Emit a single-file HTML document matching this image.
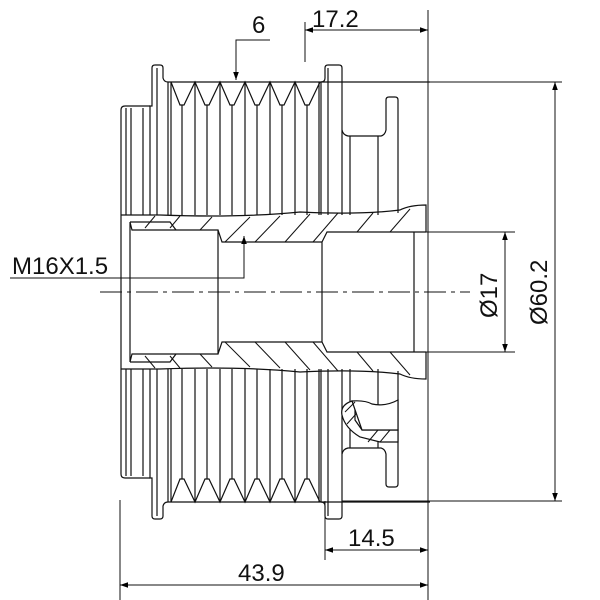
<!DOCTYPE html>
<html><head><style>body{margin:0;background:#fff}svg{display:block}</style></head><body>
<svg width="600" height="600" viewBox="0 0 600 600" xmlns="http://www.w3.org/2000/svg" font-family="Liberation Sans, sans-serif">
<defs>
<marker id="a" viewBox="0 0 10 10" refX="10" refY="5" markerWidth="8" markerHeight="8" orient="auto-start-reverse"><path d="M0,1.5 L10,5 L0,8.5z" fill="#000"/></marker>
<g id="half" fill="none" stroke="#111" stroke-width="1.2">
  <path d="M121,215 V110 Q121,106 125,106 H150"/>
  <line x1="126" y1="108" x2="126" y2="215"/><line x1="131" y1="108" x2="131" y2="215"/><line x1="143" y1="108" x2="143" y2="215"/>
  <path d="M150,215 V106 H152 V68 Q152,65 155,65 H160 Q163,65 163,68 V78 Q164,82 168,82"/>
  <line x1="157" y1="68" x2="157" y2="215"/>
  <line x1="168" y1="82" x2="168" y2="215"/><line x1="171" y1="82" x2="171" y2="215"/>
  <line x1="168" y1="82" x2="430" y2="82"/>
  <path d="M171,82 L180,105 L184,105 L195,82 L205,105 L209,105 L220,82 L230,105 L234,105 L245,82 L255,105 L259,105 L270,82 L280,105 L284,105 L295,82 L305,105 L309,105 L320,82"/>
  <line x1="182" y1="105" x2="182" y2="215"/><line x1="195" y1="82" x2="195" y2="215"/>
  <line x1="207" y1="105" x2="207" y2="215"/><line x1="220" y1="82" x2="220" y2="215"/>
  <line x1="232" y1="105" x2="232" y2="215"/><line x1="245" y1="82" x2="245" y2="215"/>
  <line x1="257" y1="105" x2="257" y2="215"/><line x1="270" y1="82" x2="270" y2="215"/>
  <line x1="282" y1="105" x2="282" y2="215"/><line x1="295" y1="82" x2="295" y2="215"/>
  <line x1="307" y1="105" x2="307" y2="215"/><line x1="319" y1="82" x2="319" y2="215"/><line x1="321" y1="82" x2="321" y2="215"/>
  <path d="M321,82 Q325,82 325,78 V68 Q325,65 328,65 H339 Q342,65 342,68 V215"/>
  <line x1="328" y1="68" x2="328" y2="215"/>
  <path d="M342,130 Q343,135 348,136 H381 Q385,135 386,130 V100 Q386,97 389,97 H395 Q398,97 398,100 V213"/>
  <line x1="350" y1="136" x2="350" y2="215"/><line x1="378" y1="136" x2="378" y2="215"/>
  <path d="M121,215 H160 Q240,218 300,212 Q360,215 400,210 Q410,205 426,205 V232"/>
  <path d="M121,215 V292 M130,222 V292 M130,222 L132,230 H218 V292 M218,230 L222,242 H322 V292 M322,242 L327,232 H414 V292 M414,232 L426,232"/>
  <path d="M130,222 H170 L176,230"/>
  <g stroke-width="1"><line x1="145" y1="228" x2="155" y2="216"/><line x1="170" y1="228" x2="180" y2="216"/><line x1="200" y1="230" x2="212" y2="217"/><line x1="225" y1="242" x2="250" y2="217"/><line x1="255" y1="242" x2="280" y2="216"/><line x1="285" y1="242" x2="310" y2="214"/><line x1="313" y1="242" x2="338" y2="213"/><line x1="357" y1="232" x2="373" y2="213"/><line x1="390" y1="232" x2="410" y2="209"/></g>
</g>
</defs>
<use href="#half"/>
<use href="#half" transform="translate(0,584) scale(1,-1)"/>
<g fill="#fff" stroke="#111" stroke-width="1.2">
<path d="M352,401 Q340,405 342,415 Q345,428 360,437 L380,442 H398 V430 H362 L355,420 V405 Z"/>
<path d="M352,401 Q365,400 372,404 Q385,407 398,400 V430 H362 Z"/>
</g>
<g stroke="#111" stroke-width="1" fill="none">
<line x1="345" y1="412" x2="355" y2="402"/><line x1="347" y1="424" x2="356" y2="414"/><line x1="368" y1="442" x2="378" y2="430"/><line x1="380" y1="442" x2="390" y2="430"/>
</g>
<line x1="100" y1="292" x2="470" y2="292" stroke="#111" stroke-dasharray="22,5,4,5"/>
<g stroke="#111" stroke-width="1" fill="none">
<line x1="428" y1="10" x2="428" y2="600"/>
<line x1="305" y1="22" x2="305" y2="62"/>
<line x1="305" y1="30" x2="428" y2="30" marker-start="url(#a)" marker-end="url(#a)"/>
<polyline points="270,40 236,40 236,80" marker-end="url(#a)"/>
<line x1="342" y1="82" x2="562" y2="82"/><line x1="342" y1="501" x2="562" y2="501"/>
<line x1="555" y1="82" x2="555" y2="501" marker-start="url(#a)" marker-end="url(#a)"/>
<line x1="426" y1="232" x2="515" y2="232"/><line x1="426" y1="352" x2="515" y2="352"/>
<line x1="505" y1="232" x2="505" y2="352" marker-start="url(#a)" marker-end="url(#a)"/>
<polyline points="10,278 244,278 244,236" marker-end="url(#a)"/>
<line x1="325" y1="501" x2="325" y2="560"/>
<line x1="325" y1="550" x2="428" y2="550" marker-start="url(#a)" marker-end="url(#a)"/>
<line x1="120" y1="500" x2="120" y2="600"/>
<line x1="120" y1="585" x2="428" y2="585" marker-start="url(#a)" marker-end="url(#a)"/>
</g>
<g font-size="24" fill="#111">
<text x="252" y="33">6</text>
<text x="312" y="27">17.2</text>
<text x="12" y="274">M16X1.5</text>
<text x="348" y="546">14.5</text>
<text x="238" y="581">43.9</text>
<text transform="translate(497,318) rotate(-90)">Ø17</text>
<text transform="translate(547,325) rotate(-90)">Ø60.2</text>
</g>
</svg>
</body></html>
